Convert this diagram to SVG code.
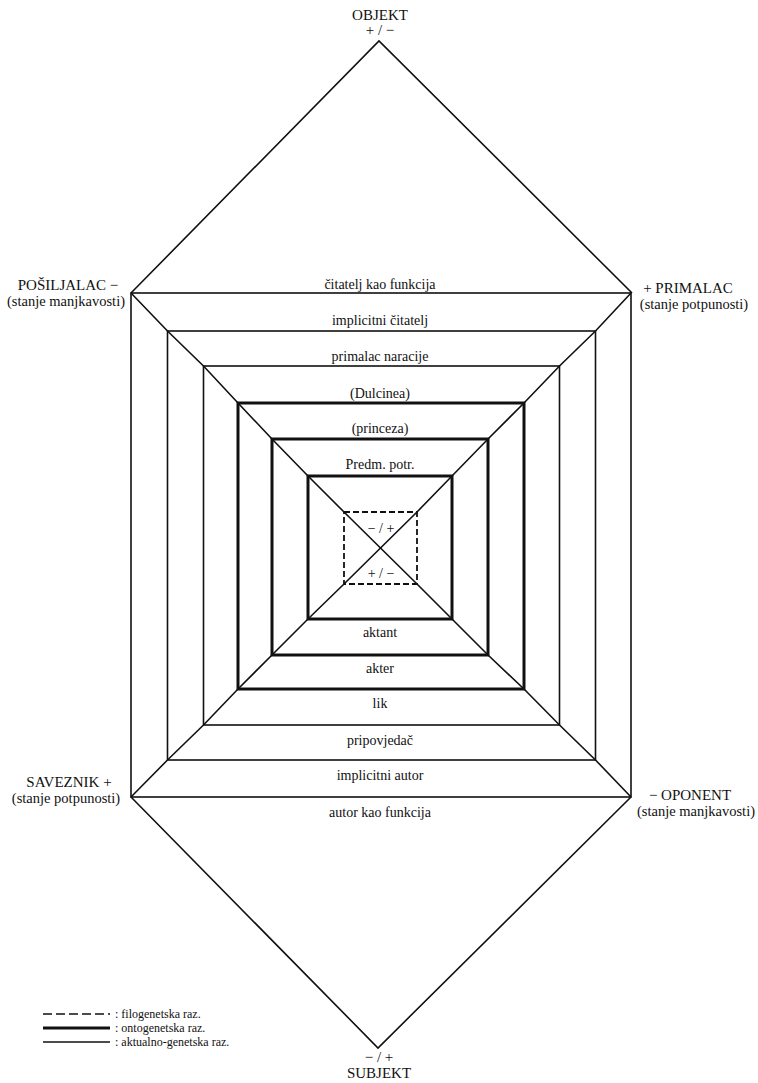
<svg xmlns="http://www.w3.org/2000/svg" width="758" height="1083" viewBox="0 0 758 1083" font-family="'Liberation Serif', 'DejaVu Serif', serif">
<style>
text{font-family:"Liberation Serif","DejaVu Serif",serif;fill:#111;}
.band{font-size:14px;text-anchor:middle;}
.title{font-size:15px;text-anchor:middle;}
.sub{font-size:14.5px;text-anchor:middle;}
.leg{font-size:12px;}
.thin{fill:none;stroke:#111;stroke-width:1.6;}
.thick{fill:none;stroke:#111;stroke-width:3;}
.dash{fill:none;stroke:#111;stroke-width:1.8;stroke-dasharray:6 3;}
</style>
<rect x="0" y="0" width="758" height="1083" fill="#fff"/>
<g id="connectors">
<polyline class="thin" points="131,293 379,41 632,293"/>
<polyline class="thin" points="131,797 378,1048 631,797"/>
<polyline class="thin" points="131,293 167.5,331 203.5,366 238,403 272,439 308,476 344,512 380.5,548 417,584 452,619 488,655 524,689 559.5,725 595.5,760 631,797"/>
<polyline class="thin" points="631,293 595.5,331 559.5,366 524,403 488,439 452,476 417,512 380.5,548 344,584 308,619 272,655 238,689 203.5,725 167.5,760 131,797"/>
</g>
<g id="node-autor-citatelj-funkcija">
<rect class="thin" x="131" y="293" width="500" height="504"/>
<text class="band" x="380" y="289">čitatelj kao funkcija</text>
<text class="band" x="380" y="817">autor kao funkcija</text>
</g>
<g id="node-implicitni">
<rect class="thin" x="167.5" y="331" width="428" height="429"/>
<text class="band" x="380" y="325">implicitni čitatelj</text>
<text class="band" x="380" y="780">implicitni autor</text>
</g>
<g id="node-naracija">
<rect class="thin" x="203.5" y="366" width="356" height="359"/>
<text class="band" x="380" y="361">primalac naracije</text>
<text class="band" x="380" y="745">pripovjedač</text>
</g>
<g id="node-dulcinea-lik">
<rect class="thick" x="238" y="403" width="286" height="286"/>
<text class="band" x="380" y="398">(Dulcinea)</text>
<text class="band" x="380" y="708">lik</text>
</g>
<g id="node-princeza-akter">
<rect class="thick" x="272" y="439" width="216" height="216"/>
<text class="band" x="380" y="433">(princeza)</text>
<text class="band" x="380" y="673">akter</text>
</g>
<g id="node-predm-aktant">
<rect class="thick" x="308" y="476" width="144" height="143"/>
<text class="band" x="380" y="469">Predm. potr.</text>
<text class="band" x="380" y="637">aktant</text>
</g>
<g id="node-center">
<rect class="dash" x="344" y="512" width="73" height="72"/>
<text class="band" x="381" y="533">− / +</text>
<text class="band" x="381" y="578">+ / −</text>
</g>
<g id="node-objekt">
<text class="title" x="380" y="20">OBJEKT</text>
<text class="title" x="380" y="35">+ / −</text>
</g>
<g id="node-subjekt">
<text class="title" x="379" y="1062">− / +</text>
<text class="title" x="379" y="1078">SUBJEKT</text>
</g>
<g id="node-posiljalac">
<text class="title" x="68" y="290">POŠILJALAC −</text>
<text class="sub" x="66" y="306">(stanje manjkavosti)</text>
</g>
<g id="node-primalac">
<text class="title" x="688" y="293">+ PRIMALAC</text>
<text class="sub" x="694" y="309">(stanje potpunosti)</text>
</g>
<g id="node-saveznik">
<text class="title" x="69" y="787">SAVEZNIK +</text>
<text class="sub" x="66" y="803">(stanje potpunosti)</text>
</g>
<g id="node-oponent">
<text class="title" x="690" y="800">− OPONENT</text>
<text class="sub" x="696" y="816">(stanje manjkavosti)</text>
</g>
<g id="legend">
<line x1="43" y1="1014" x2="110" y2="1014" stroke="#111" stroke-width="1.6" stroke-dasharray="9 4"/>
<line x1="43" y1="1028" x2="110" y2="1028" stroke="#111" stroke-width="3"/>
<line x1="43" y1="1042" x2="110" y2="1042" stroke="#111" stroke-width="1.6"/>
<text class="leg" x="115" y="1018">: filogenetska raz.</text>
<text class="leg" x="115" y="1032">: ontogenetska raz.</text>
<text class="leg" x="115" y="1046">: aktualno-genetska raz.</text>
</g>
</svg>
